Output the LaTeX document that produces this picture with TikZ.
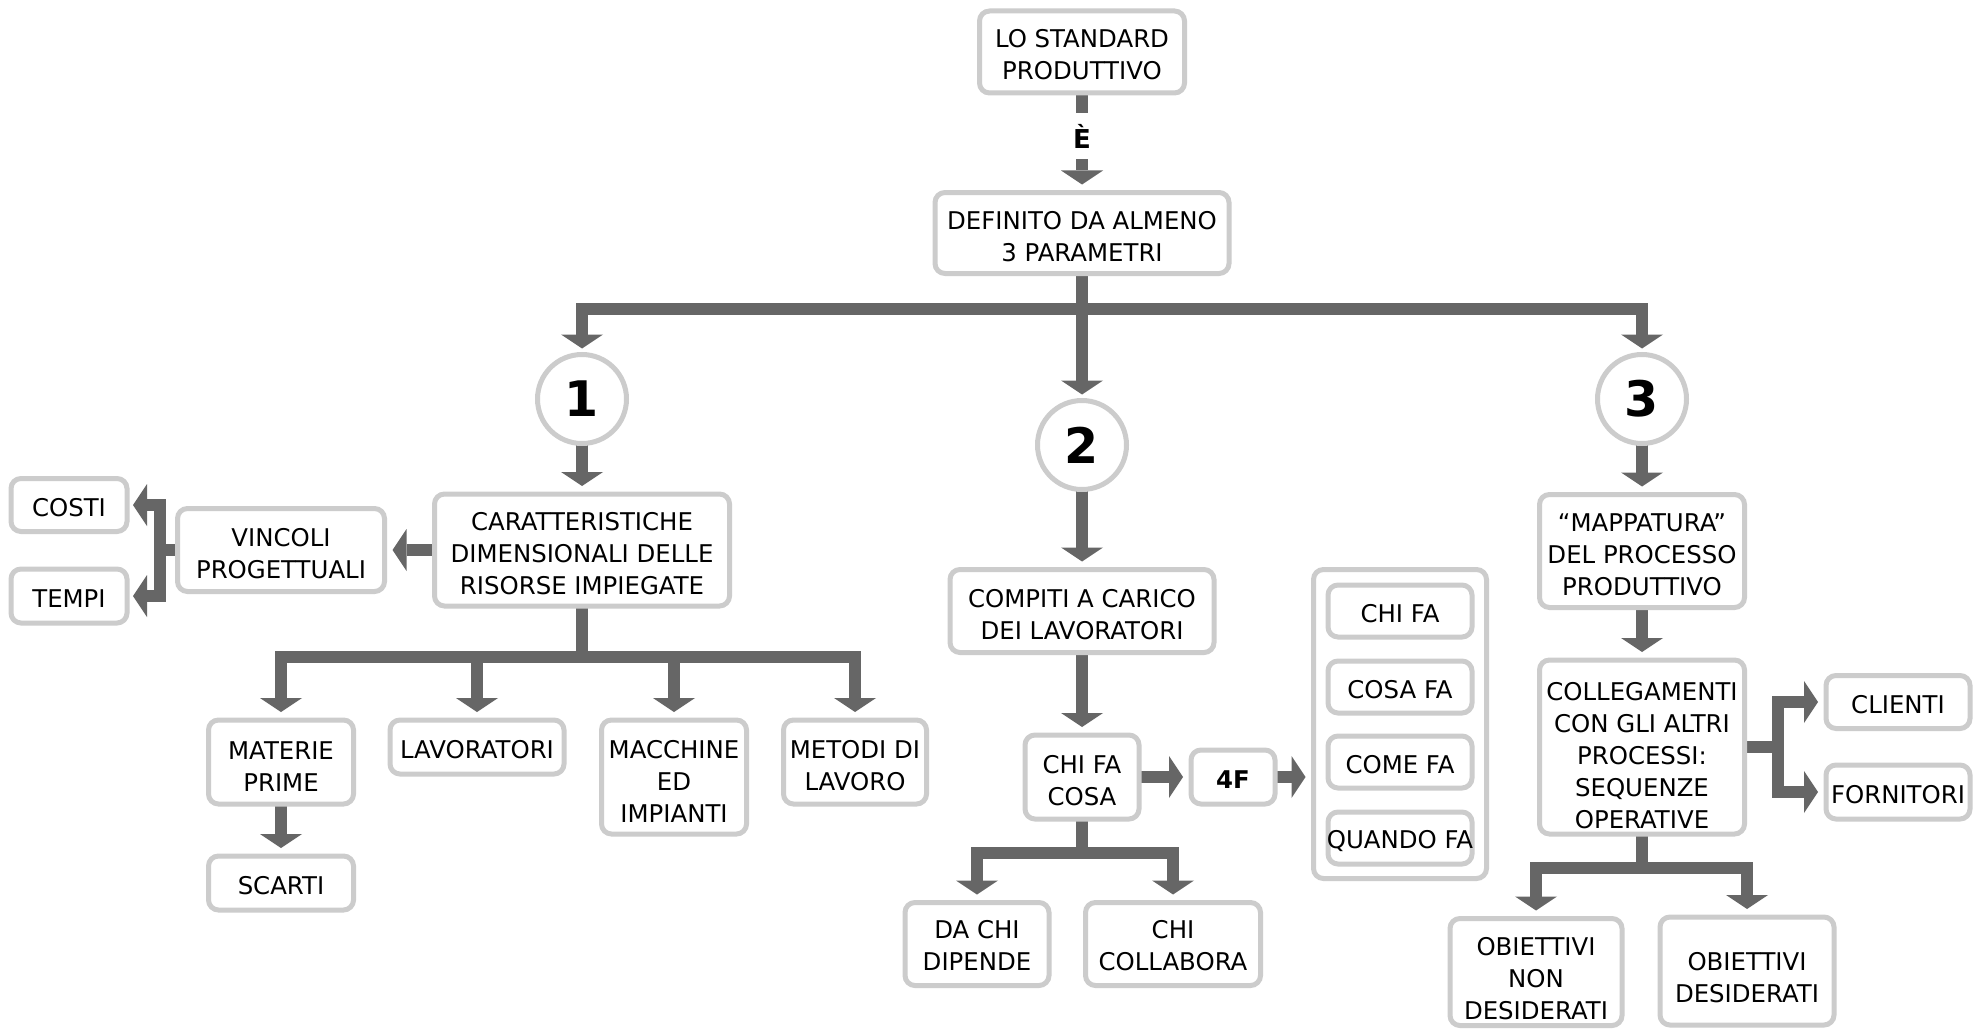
\documentclass[tikz,border=0pt]{standalone}
\usepackage{fontspec}
\setmainfont{DejaVu Sans}
\usetikzlibrary{arrows.meta,backgrounds}
\definecolor{boxgray}{HTML}{CCCCCC}
\definecolor{linkgray}{HTML}{666666}
% invisible strut that pushes the first text line down a little
\newcommand{\padtop}[1]{\rule{0pt}{#1}}

\begin{document}
\begin{tikzpicture}[x=1pt,y=-1pt,
  box/.style={draw=boxgray, line width=5pt, fill=white, rounded corners=10pt,
    align=center, inner sep=0pt, outer sep=0pt, font=\fontsize{24.4}{32}\selectfont,
    execute at begin node={\rule{0pt}{23.5pt}}},
  wh/.style 2 args={minimum width=#1pt, minimum height=#2pt},
  num/.style={circle, draw=boxgray, line width=5pt, fill=white, minimum size=89pt,
    inner sep=0pt, outer sep=0pt, font=\fontsize{49}{49}\selectfont\bfseries},
  link/.style={draw=linkgray, line width=12.5pt},
  arr/.style={link, -{Triangle[width=42pt, length=14pt, line width=0pt]}, shorten >=#1},
  arr/.default=8pt,
]
\useasboundingbox (0,0) rectangle (1984,1030);

% top of the map
\node[box, wh={205}{82}] (lo) at (1082,52) {\padtop{23.5pt}LO STANDARD\\PRODUTTIVO};
\node[font=\fontsize{26}{26}\selectfont\bfseries, inner sep=0pt, minimum height=46pt] (e) at (1082,136) {È};
\node[box, wh={294}{81}] (def) at (1082,233) {\padtop{26pt}DEFINITO DA ALMENO\\3 PARAMETRI};
\node[num] (n1) at (582,399) {1};
\node[num] (n2) at (1082,445) {2};
\node[num] (n3) at (1642,399) {3};

% parameter 1
\node[box, wh={295}{112}] (car) at (582,550) {\padtop{26pt}CARATTERISTICHE\\DIMENSIONALI DELLE\\RISORSE IMPIEGATE};
\node[box, wh={207}{83}] (vinc) at (281,550) {\padtop{26pt}VINCOLI\\PROGETTUALI};
\node[box, wh={116}{53}] (costi) at (69,505) {COSTI};
\node[box, wh={116}{54}] (tempi) at (69,596) {TEMPI};
\node[box, wh={145}{84}] (mat) at (281,762) {\padtop{26pt}MATERIE\\PRIME};
\node[box, wh={174}{54}] (lav) at (477,747) {LAVORATORI};
\node[box, wh={145}{114}] (mac) at (674,777) {\padtop{26pt}MACCHINE\\ED\\IMPIANTI};
\node[box, wh={143}{84}] (met) at (855,762) {\padtop{26pt}METODI DI\\LAVORO};
\node[box, wh={145}{54}] (scarti) at (281,883) {SCARTI};

% parameter 2
\node[box, wh={264}{83}] (comp) at (1082,611) {\padtop{26pt}COMPITI A CARICO\\DEI LAVORATORI};
\node[box, wh={114}{84}] (chi) at (1082,777) {\padtop{26pt}CHI FA\\COSA};
\node[box, wh={84}{54}, font=\fontsize{24.4}{32}\selectfont\bfseries] (f4) at (1233,777) {4F};
\node[box, wh={173}{309}] (grp) at (1400,724) {};
\node[box, wh={144}{52}] (q1) at (1400,611) {CHI FA};
\node[box, wh={144}{52}] (q2) at (1400,687) {COSA FA};
\node[box, wh={144}{52}] (q3) at (1400,762) {COME FA};
\node[box, wh={144}{52}] (q4) at (1400,838) {\makebox[144pt]{QUANDO FA}};
\node[box, wh={144}{83}] (dachi) at (977,944) {\padtop{21pt}DA CHI\\DIPENDE};
\node[box, wh={175}{83}] (chicoll) at (1173,944) {\padtop{21pt}CHI\\COLLABORA};

% parameter 3
\node[box, wh={205}{113}] (map) at (1642,551) {\padtop{25pt}“MAPPATURA”\\DEL PROCESSO\\PRODUTTIVO};
\node[box, wh={205}{174}] (coll) at (1642,747) {\padtop{36pt}COLLEGAMENTI\\CON GLI ALTRI\\PROCESSI:\\SEQUENZE\\OPERATIVE};
\node[box, wh={144}{53}] (cli) at (1898,702) {CLIENTI};
\node[box, wh={144}{54}] (forn) at (1898,792) {FORNITORI};
\node[box, wh={172}{107}] (obn) at (1536,972) {\padtop{31pt}OBIETTIVI\\NON\\DESIDERATI};
\node[box, wh={174}{108}] (obd) at (1747,971) {\padtop{31pt}OBIETTIVI\\DESIDERATI};

% fork points
\coordinate (f0) at (1082,309);
\coordinate (f1) at (160,550);
\coordinate (f2) at (582,657);
\coordinate (f3) at (1082,853);
\coordinate (f5) at (1778,747);
\coordinate (f6) at (1642,868);

\begin{scope}[on background layer]
  \fill[white] (0,0) rectangle (1984,1030);
  \draw[link] (lo.south) -- (e.north);
  \draw[arr] (e.south) -- (def.north);
  \draw[arr=6pt] (def.south) -- (f0) -| (n1.north);
  \draw[arr=6pt] (def.south) -- (f0) -| (n3.north);
  \draw[arr=6pt] (def.south) -- (n2.north);

  \draw[arr] (n1.south) -- (car.north);
  \draw[arr] (car.west) -- (vinc.east);
  \draw[arr=6pt] (vinc.west) -- (f1) |- (costi.east);
  \draw[arr=6pt] (vinc.west) -- (f1) |- (tempi.east);
  \draw[arr] (car.south) -- (f2) -| (mat.north);
  \draw[arr] (car.south) -- (f2) -| (lav.north);
  \draw[arr] (car.south) -- (f2) -| (mac.north);
  \draw[arr] (car.south) -- (f2) -| (met.north);
  \draw[arr] (mat.south) -- (scarti.north);

  \draw[arr] (n2.south) -- (comp.north);
  \draw[arr] (comp.south) -- (chi.north);
  \draw[arr] (chi.east) -- (f4.west);
  \draw[arr] (f4.east) -- (f4.east -| grp.west);
  \draw[arr] (chi.south) -- (f3) -| (dachi.north);
  \draw[arr] (chi.south) -- (f3) -| (chicoll.north);

  \draw[arr] (n3.south) -- (map.north);
  \draw[arr] (map.south) -- (coll.north);
  \draw[arr] (coll.east) -- (f5) |- (cli.west);
  \draw[arr] (coll.east) -- (f5) |- (forn.west);
  \draw[arr] (coll.south) -- (f6) -| (obn.north);
  \draw[arr] (coll.south) -- (f6) -| (obd.north);
\end{scope}
\end{tikzpicture}
\end{document}
